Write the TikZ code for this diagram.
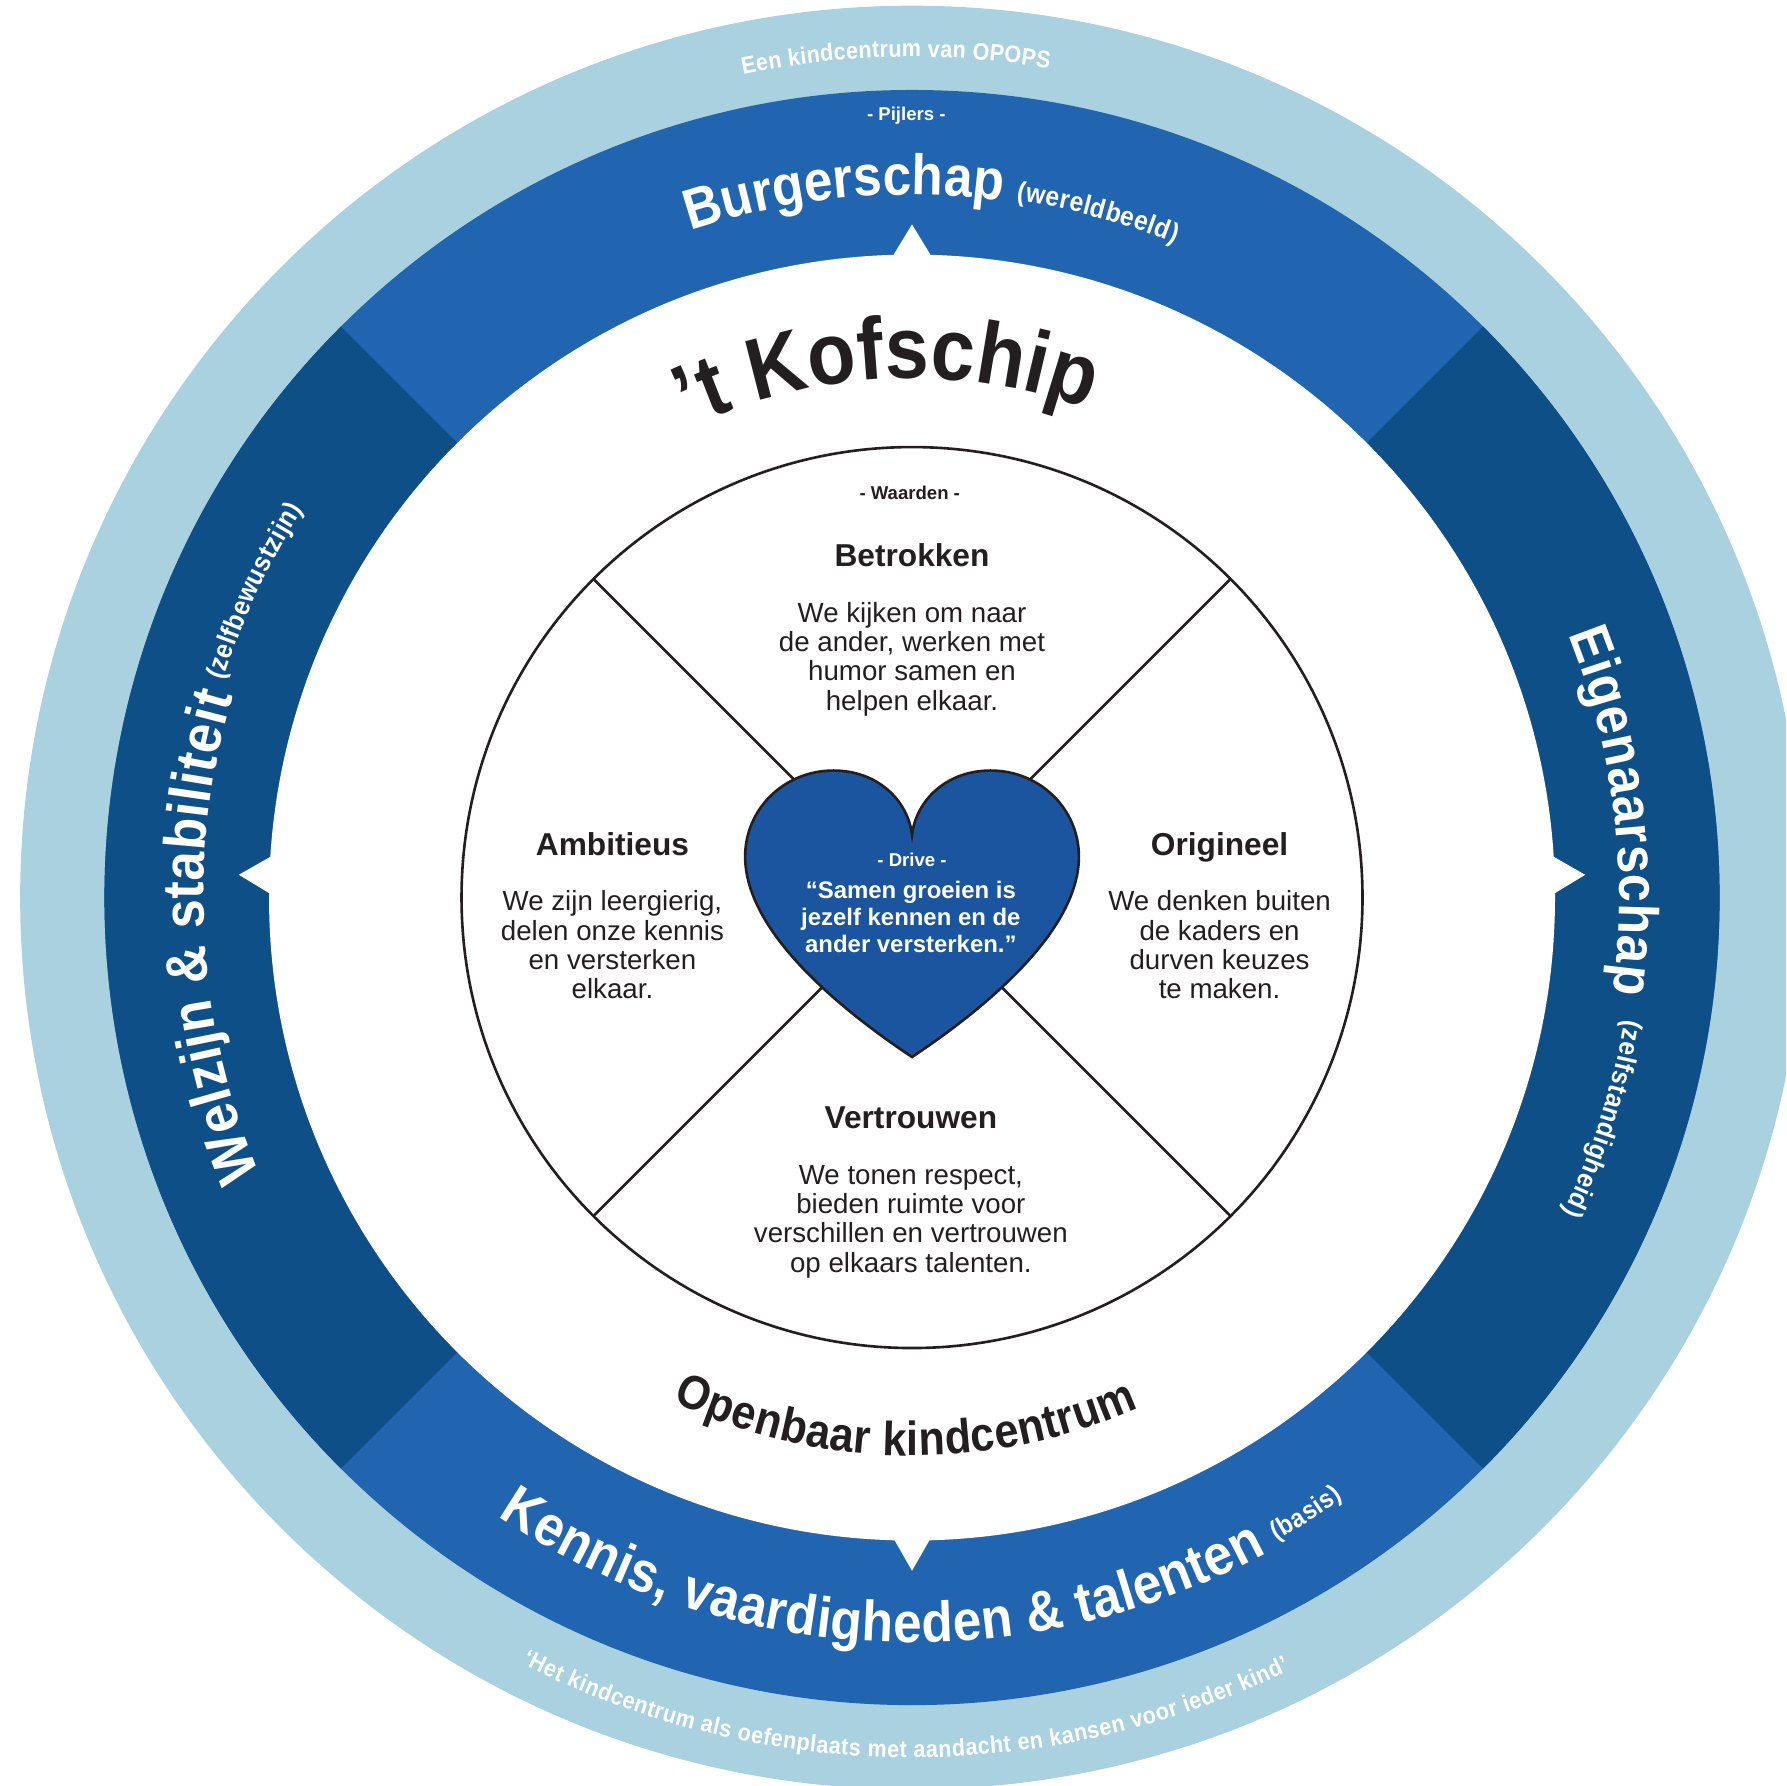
\documentclass[tikz,border=0pt]{standalone}
\usepackage{fontspec}
\setmainfont{Liberation Sans}
\newfontfamily\curvefont[FakeStretch=0.9]{Liberation Sans}
\usetikzlibrary{decorations.text}
\definecolor{ringlight}{HTML}{A9D1DF}
\definecolor{ringmid}{HTML}{2165B1}
\definecolor{ringdark}{HTML}{0E4F87}
\definecolor{heartblue}{HTML}{1B55A0}
\definecolor{inkdark}{HTML}{231F20}
\newcommand{\curvetext}[6]{%
  \path[decorate,decoration={text along path,text align={fit to path},text color=#4,
    text={|\curvefont\fontsize{#5}{#5}\selectfont\bfseries|#6}}]
    (#2:#1pt) arc[start angle=#2,end angle=#3,radius=#1pt];}
\tikzset{
  headtext/.style={text=inkdark,font=\fontsize{27.8}{32}\selectfont\bfseries,inner sep=0pt,text height=20pt,text depth=0pt},
  bodytext/.style={text=inkdark,font=\fontsize{24.3}{25.8}\selectfont,align=center,inner sep=0pt},
  smalltext/.style={font=\fontsize{16.3}{18}\selectfont\bfseries,inner sep=0pt},
  outline/.style={draw=inkdark,line width=2.3pt},
  tri/.style={fill=white,draw=none}
}
\begin{document}
\begin{tikzpicture}[x=1pt,y=1pt]
\useasboundingbox (-800.7,-780) rectangle (767.3,788);
\clip (-800.7,-780) rectangle (767.3,788);
\fill[white] (-800.7,-780) rectangle (767.3,788);
% rings
\fill[ringlight] (0,0) circle[radius=783];
\fill[ringmid] (0,0) circle[radius=709];
\fill[ringdark] (0,0) -- (135:709) arc[start angle=135,end angle=225,radius=709] -- cycle;
\fill[ringdark] (0,0) -- (-45:709) arc[start angle=-45,end angle=45,radius=709] -- cycle;
\fill[white] (0,0) circle[radius=564.5];
% pointers
\fill[tri] (-17,563) -- (0,591) -- (17,563) -- cycle;
\fill[tri] (-16,-563) -- (0,-591) -- (16,-563) -- cycle;
\fill[tri] (-563,36) -- (-591,20) -- (-563,3) -- cycle;
\fill[tri] (563,36) -- (591,20) -- (563,3) -- cycle;
% inner wheel
\coordinate (nw) at (135:395.5);
\coordinate (se) at (-45:395.5);
\coordinate (ne) at (45:395.5);
\coordinate (sw) at (225:395.5);
\draw[outline,fill=white] (0,0) circle[radius=395.5];
\draw[outline] (nw) -- (se);
\draw[outline] (ne) -- (sw);
% heart
\draw[outline,fill=heartblue,line join=miter]
  (0,55) .. controls (3.5,85) and (30,111.5) .. (69,111.5)
  .. controls (112,111.5) and (146.5,78) .. (146.5,36)
  .. controls (146.5,-25) and (75,-90) .. (0,-140)
  .. controls (-75,-90) and (-146.5,-25) .. (-146.5,36)
  .. controls (-146.5,78) and (-112,111.5) .. (-69,111.5)
  .. controls (-30,111.5) and (-3.5,85) .. (0,55) -- cycle;
% curved texts
\curvetext{738}{101.6}{80.6}{white}{21}{Een kindcentrum van OPOPS}
\curvetext{617}{108.4}{82.6}{white}{50}{Burgerschap}
\curvetext{619}{81.5}{68.1}{white}{24}{(wereldbeeld)}
\curvetext{456}{115.2}{70.3}{inkdark}{77}{’t Kofschip}
\curvetext{490}{244.6}{294}{inkdark}{42}{Openbaar kindcentrum}
\curvetext{654}{236.2}{298.4}{white}{50}{Kennis, vaardigheden {\&} talenten}
\curvetext{649}{299.5}{305.7}{white}{23}{(basis)}
\curvetext{755}{243}{296}{white}{21}{‘Het kindcentrum als oefenplaats met aandacht en kansen voor ieder kind’}
\curvetext{621}{21.8}{-7.8}{white}{49}{Eigenaarschap}
\curvetext{635}{-9.7}{-25.8}{white}{24}{(zelfstandigheid)}
\curvetext{622}{203}{163.5}{white}{51}{Welzijn {\&} stabiliteit}
\curvetext{634}{162.5}{147.5}{white}{24}{(zelfbewustzijn)}
% straight texts
\node[smalltext,text=white] (pijlers) at (-5,686) {- Pijlers -};
\node[smalltext,text=inkdark] (waarden) at (-2,355) {- Waarden -};
\node[headtext] (betrokken) at (0,301) {Betrokken};
\node[bodytext] (betrokkenb) at (0,209.5) {We kijken om naar\\de ander, werken met\\humor samen en\\helpen elkaar.};
\node[headtext] (ambitieus) at (-263,47) {Ambitieus};
\node[bodytext] (ambitieusb) at (-263,-41.5) {We zijn leergierig,\\delen onze kennis\\en versterken\\elkaar.};
\node[headtext] (origineel) at (270,47) {Origineel};
\node[bodytext] (origineelb) at (270,-41.5) {We denken buiten\\de kaders en\\durven keuzes\\te maken.};
\node[headtext] (vertrouwen) at (-1,-193) {Vertrouwen};
\node[bodytext] (vertrouwenb) at (-1,-284.5) {We tonen respect,\\bieden ruimte voor\\verschillen en vertrouwen\\op elkaars talenten.};
\node[smalltext,text=white] (drive) at (0,33) {- Drive -};
\node[text=white,font=\fontsize{21}{23.6}\selectfont\bfseries,align=center,inner sep=0pt] (quote) at (-1,-17)
  {“Samen groeien is\\jezelf kennen en de\\ander versterken.”};
\end{tikzpicture}
\end{document}
